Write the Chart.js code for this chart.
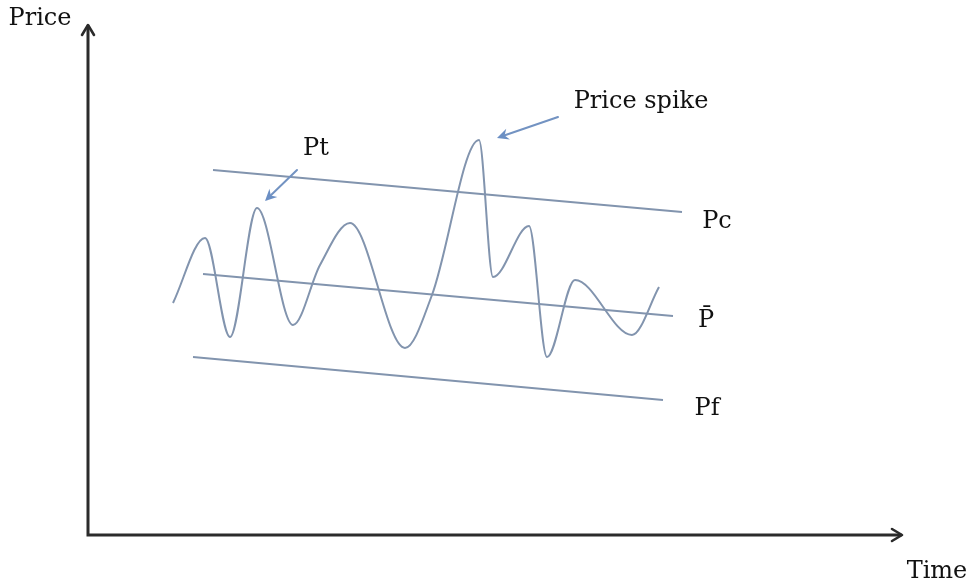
<!DOCTYPE html>
<html>
<head>
<meta charset="utf-8">
<script src="https://cdn.jsdelivr.net/npm/chart.js@4.4.1/dist/chart.umd.min.js"></script>
<style>
  html, body { margin: 0; padding: 0; background: #fff; }
  #wrap { width: 979px; height: 587px; }
</style>
</head>
<body>
<div id="wrap"><canvas id="priceChart"></canvas></div>
<script>
// Price path Pt (time, price): turning points
var waveTime  = [85, 117, 142, 169, 205, 232, 262, 317, 344, 391, 405, 441, 459, 487, 544, 571];
var wavePrice = [232, 297, 198, 327, 210, 270, 312, 187, 240, 395, 258, 309, 178, 255, 200, 248];

// Straight bands: ceiling Pc, mean P-bar, floor Pf  [start, end]
var bandTime  = { pc: [125, 594], pbar: [115, 585], pf: [105, 575] };
var bandPrice = { pc: [365, 323], pbar: [261, 219], pf: [178, 135] };

// Text labels and their positions in data units
var labelText  = ['Pt', 'Price spike', 'Pc', 'P\u0304', 'Pf', 'Price', 'Time'];
var labelTime  = [228, 553, 629, 618, 619, -48, 849];
var labelPrice = [386, 433, 313, 214, 126, 516, -37];

// Pointer arrows [tailX, tailY, tipX, tipY]
var pointers = [[209, 365, 177, 334], [470, 418, 409, 397]];

var lineColor = '#8294ae';

function toPoints(xs, ys) {
    return xs.map(function (x, i) { return { x: x, y: ys[i] }; });
}

function bandSet(key) {
    return {
        data: toPoints(bandTime[key], bandPrice[key]),
        showLine: true,
        borderColor: lineColor,
        borderWidth: 1.8,
        pointRadius: 0
    };
}

var sketchPlugin = {
    id: 'sketch',
    afterDatasetsDraw: function (chart) {
        var c = chart.ctx, xs = chart.scales.x, ys = chart.scales.y;
        var ox = xs.getPixelForValue(0), oy = ys.getPixelForValue(0);
        var tx = xs.getPixelForValue(xs.max), ty = ys.getPixelForValue(ys.max);
        c.save();
        // axes
        c.strokeStyle = '#2b2b2b';
        c.lineWidth = 3;
        c.lineCap = 'square';
        c.beginPath();
        c.moveTo(ox, ty + 2);
        c.lineTo(ox, oy);
        c.lineTo(tx - 2, oy);
        c.stroke();
        c.lineCap = 'round';
        c.lineJoin = 'round';
        c.lineWidth = 2.6;
        c.beginPath();
        c.moveTo(ox - 6, ty + 10); c.lineTo(ox, ty); c.lineTo(ox + 6, ty + 10);
        c.moveTo(tx - 10, oy - 6); c.lineTo(tx, oy); c.lineTo(tx - 10, oy + 6);
        c.stroke();

        // blue pointer arrows
        c.strokeStyle = '#7393c2';
        c.fillStyle = '#6b8fc4';
        c.lineWidth = 2;
        pointers.forEach(function (p) {
            var x1 = xs.getPixelForValue(p[0]), y1 = ys.getPixelForValue(p[1]);
            var x2 = xs.getPixelForValue(p[2]), y2 = ys.getPixelForValue(p[3]);
            var a = Math.atan2(y2 - y1, x2 - x1);
            c.beginPath();
            c.moveTo(x1, y1);
            c.lineTo(x2 - 6 * Math.cos(a), y2 - 6 * Math.sin(a));
            c.stroke();
            c.beginPath();
            c.moveTo(x2, y2);
            c.lineTo(x2 - 13 * Math.cos(a - 0.45), y2 - 13 * Math.sin(a - 0.45));
            c.lineTo(x2 - 8 * Math.cos(a), y2 - 8 * Math.sin(a));
            c.lineTo(x2 - 13 * Math.cos(a + 0.45), y2 - 13 * Math.sin(a + 0.45));
            c.closePath();
            c.fill();
        });

        // labels
        c.fillStyle = '#111';
        c.font = '24px "DejaVu Serif", serif';
        c.textAlign = 'center';
        c.textBaseline = 'middle';
        labelText.forEach(function (t, i) {
            c.fillText(t, xs.getPixelForValue(labelTime[i]), ys.getPixelForValue(labelPrice[i]));
        });
        c.restore();
    }
};

var ctx = document.getElementById('priceChart').getContext('2d');
var priceChart = new Chart(ctx, {
    type: 'scatter',
    data: {
        datasets: [
            {
                data: toPoints(waveTime, wavePrice),
                showLine: true,
                cubicInterpolationMode: 'monotone',
                borderColor: lineColor,
                borderWidth: 2,
                pointRadius: 0
            },
            bandSet('pc'),
            bandSet('pbar'),
            bandSet('pf')
        ]
    },
    options: {
        responsive: true,
        maintainAspectRatio: false,
        animation: false,
        layout: { padding: { left: 88, right: 77, top: 25, bottom: 52 } },
        plugins: {
            legend: { display: false },
            tooltip: { enabled: false }
        },
        scales: {
            x: { type: 'linear', min: 0, max: 814, display: false },
            y: { type: 'linear', min: 0, max: 510, display: false }
        }
    },
    plugins: [sketchPlugin]
});
</script>
</body>
</html>
